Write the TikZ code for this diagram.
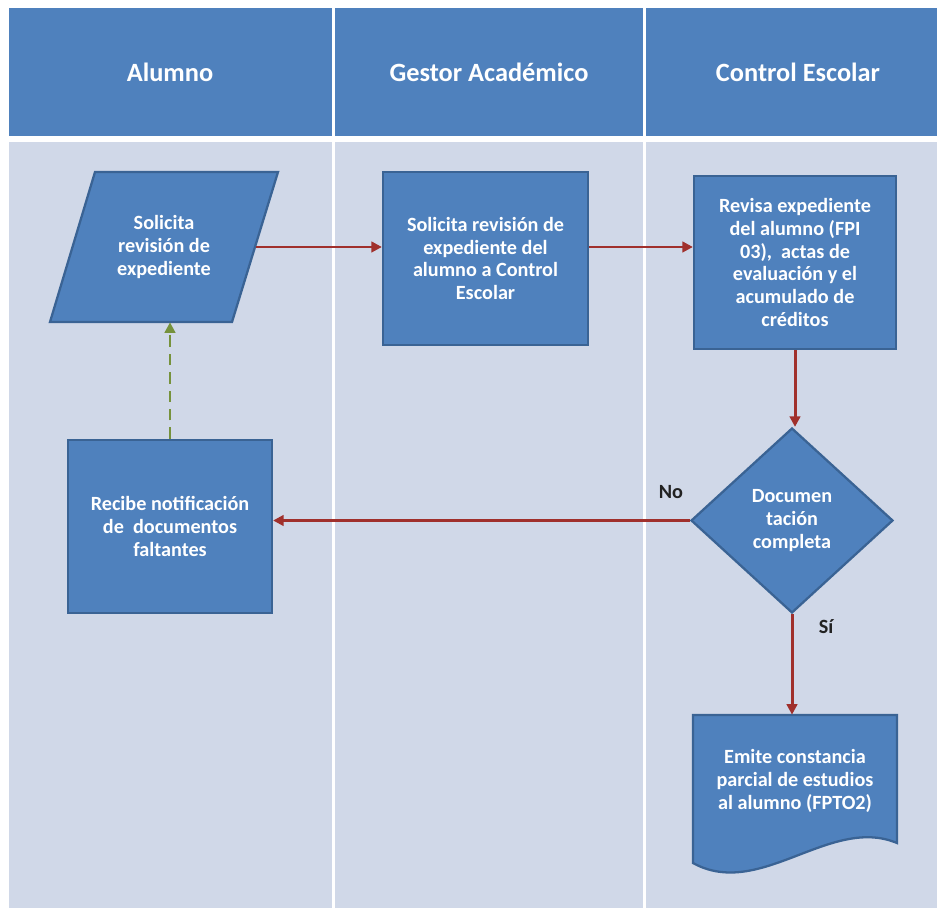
\documentclass[tikz,border=0pt]{standalone}
\usepackage{fontspec}
\setmainfont{Carlito}
\usetikzlibrary{shapes.geometric,arrows.meta}
\definecolor{hdr}{HTML}{4F81BD}
\definecolor{lane}{HTML}{D0D8E8}
\definecolor{shp}{HTML}{4F81BD}
\definecolor{edgec}{HTML}{3A6394}
\definecolor{arr}{HTML}{A0302C}
\definecolor{grn}{HTML}{76923C}
\definecolor{lbl}{HTML}{222222}
\begin{document}
\begin{tikzpicture}[x=0.02cm,y=-0.02cm,
  hdrtext/.style={text=white,font=\fontsize{15}{17}\selectfont\bfseries},
  txt/.style={text=white,align=center,font=\fontsize{11.5}{13}\selectfont\bfseries},
  boxshape/.style={draw=edgec,fill=shp,line width=1.3pt},
  procbox/.style={rectangle,boxshape,txt,inner sep=0pt,minimum width=4.08cm,minimum height=3.46cm},
  decision/.style={diamond,boxshape,txt,inner sep=0pt,minimum width=4.04cm,minimum height=3.7cm},
  ghost/.style={rectangle,draw=none,txt,inner sep=0pt},
  redarrow/.style={draw=arr,line width=1.7pt,-{Triangle[length=6pt,width=6pt]}},
  greenarrow/.style={draw=grn,line width=1.7pt,dash pattern=on 6.5pt off 4pt,-{Triangle[length=6pt,width=6pt]}},
  lab/.style={text=lbl,font=\fontsize{11.5}{13}\selectfont\bfseries}]
\useasboundingbox (0,0) rectangle (939,911);
\fill[white] (0,0) rectangle (939,911);
% headers
\fill[hdr] (9,8) rectangle (332,136);
\fill[hdr] (335,8) rectangle (643,136);
\fill[hdr] (646,8) rectangle (937,136);
% lanes
\fill[lane] (9,142) rectangle (332,908);
\fill[lane] (335,142) rectangle (643,908);
\fill[lane] (646,142) rectangle (937,908);
\node[hdrtext] (h1) at (170,72) {Alumno};
\node[hdrtext] (h2) at (489,72) {Gestor Académico};
\node[hdrtext] (h3) at (798,72) {Control Escolar};
% parallelogram
\fill[shp] (95,172) -- (278,172) -- (232,322) -- (50,322) -- cycle;
\draw[boxshape,fill=none] (95,172) -- (278,172) -- (232,322) -- (50,322) -- cycle;
\node[ghost,minimum width=3.66cm,minimum height=3cm] (p) at (164,247) {Solicita\\revisión de\\expediente};
% boxes
\node[procbox,minimum width=4.1cm] (g) at (485.5,258.5) {Solicita revisión de\\expediente del\\alumno a Control\\Escolar};
\node[procbox,minimum width=4.04cm] (c) at (795,262.5) {Revisa expediente\\del alumno (FPI\\03),\ \ actas de\\evaluación y el\\acumulado de\\créditos};
\node[decision] (dia) at (792,520.5) {Documen\\tación\\completa};
\node[procbox] (r) at (170,526.5) {Recibe notificación\\de\ \ documentos\\faltantes};
% document
\fill[shp] (693,715) -- (897,715) -- (897,843) .. controls (830,815) and (760,900) .. (693,863) -- cycle;
\draw[boxshape,fill=none] (693,715) -- (897,715) -- (897,843) .. controls (830,815) and (760,900) .. (693,863) -- cycle;
\node[ghost,minimum width=4.08cm,minimum height=2.64cm] (d) at (795,781) {Emite constancia\\parcial de estudios\\al alumno (FPTO2)};
% connectors
\draw[redarrow] (p.east) -- (p.east -| g.west);
\draw[redarrow] (g.east |- p.east) -- (c.west |- p.east);
\draw[redarrow] (c.south) -- (c.south |- dia.north);
\draw[redarrow] (dia.west) -- (dia.west -| r.east);
\draw[redarrow] (dia.south) -- (dia.south |- d.north);
\draw[greenarrow] (r.north) -- (r.north |- p.south);
\node[lab] (no) at (671,492) {No};
\node[lab] (si) at (826,627) {Sí};
\end{tikzpicture}
\end{document}
